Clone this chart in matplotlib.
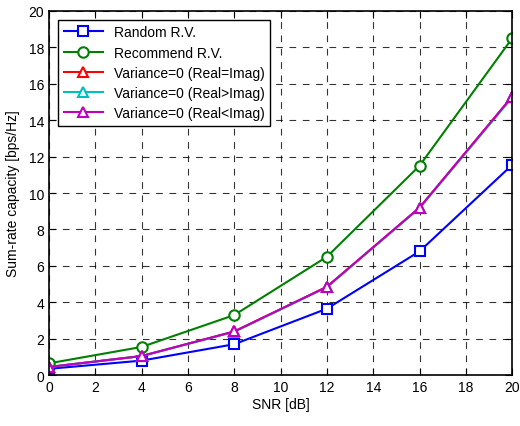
import matplotlib
matplotlib.use("Agg")
from matplotlib import pyplot as plt

snr = [0, 4, 8, 12, 16, 20]
random_rv = [0.35, 0.8, 1.7, 3.65, 6.8, 11.55]
recommend_rv = [0.65, 1.55, 3.3, 6.5, 11.5, 18.5]
var_eq = [0.45, 1.05, 2.4, 4.85, 9.2, 15.3]
var_gt = [0.45, 1.05, 2.38, 4.83, 9.18, 15.25]
var_lt = [0.45, 1.05, 2.4, 4.85, 9.2, 15.3]

plt.rcParams['font.family'] = ['Liberation Sans', 'DejaVu Sans']
fig = plt.figure(figsize=(5.2, 4.27), dpi=100)
ax = fig.add_axes([0.094, 0.119, 0.891, 0.853])

mk = dict(markerfacecolor='white', markersize=7.5, markeredgewidth=1.5, linewidth=1.5)
ax.plot(snr, random_rv, '-s', color='#0000ff', label='Random R.V.', **mk)
ax.plot(snr, recommend_rv, '-o', color='#008000', label='Recommend R.V.', **mk)
ax.plot(snr, var_eq, '-^', color='#ff0000', label='Variance=0 (Real=Imag)', **mk)
ax.plot(snr, var_gt, '-^', color='#00bfbf', label='Variance=0 (Real>Imag)', **mk)
ax.plot(snr, var_lt, '-^', color='#bf00bf', label='Variance=0 (Real<Imag)', **mk)

ax.set_xlim(0, 20)
ax.set_ylim(0, 20)
ax.set_xticks(range(0, 21, 2))
ax.set_yticks(range(0, 21, 2))
ax.grid(True, color='black', linestyle=(0, (6, 6)), linewidth=0.8, alpha=0.8)
ax.tick_params(direction='in', top=True, right=True, labelsize=10, length=5)
for s in ax.spines.values():
    s.set_linewidth(1.2)
ax.set_xlabel('SNR [dB]', fontsize=10, labelpad=2)
ax.set_ylabel('Sum-rate capacity [bps/Hz]', fontsize=10, labelpad=6)

leg = ax.legend(loc='upper left', fontsize=10, fancybox=False, framealpha=1,
                edgecolor='black', handlelength=2.8, borderpad=0.4,
                labelspacing=0.45, bbox_to_anchor=(0.005, 0.995))
leg.get_frame().set_linewidth(1.0)

fig.savefig('out.png', dpi=100)
